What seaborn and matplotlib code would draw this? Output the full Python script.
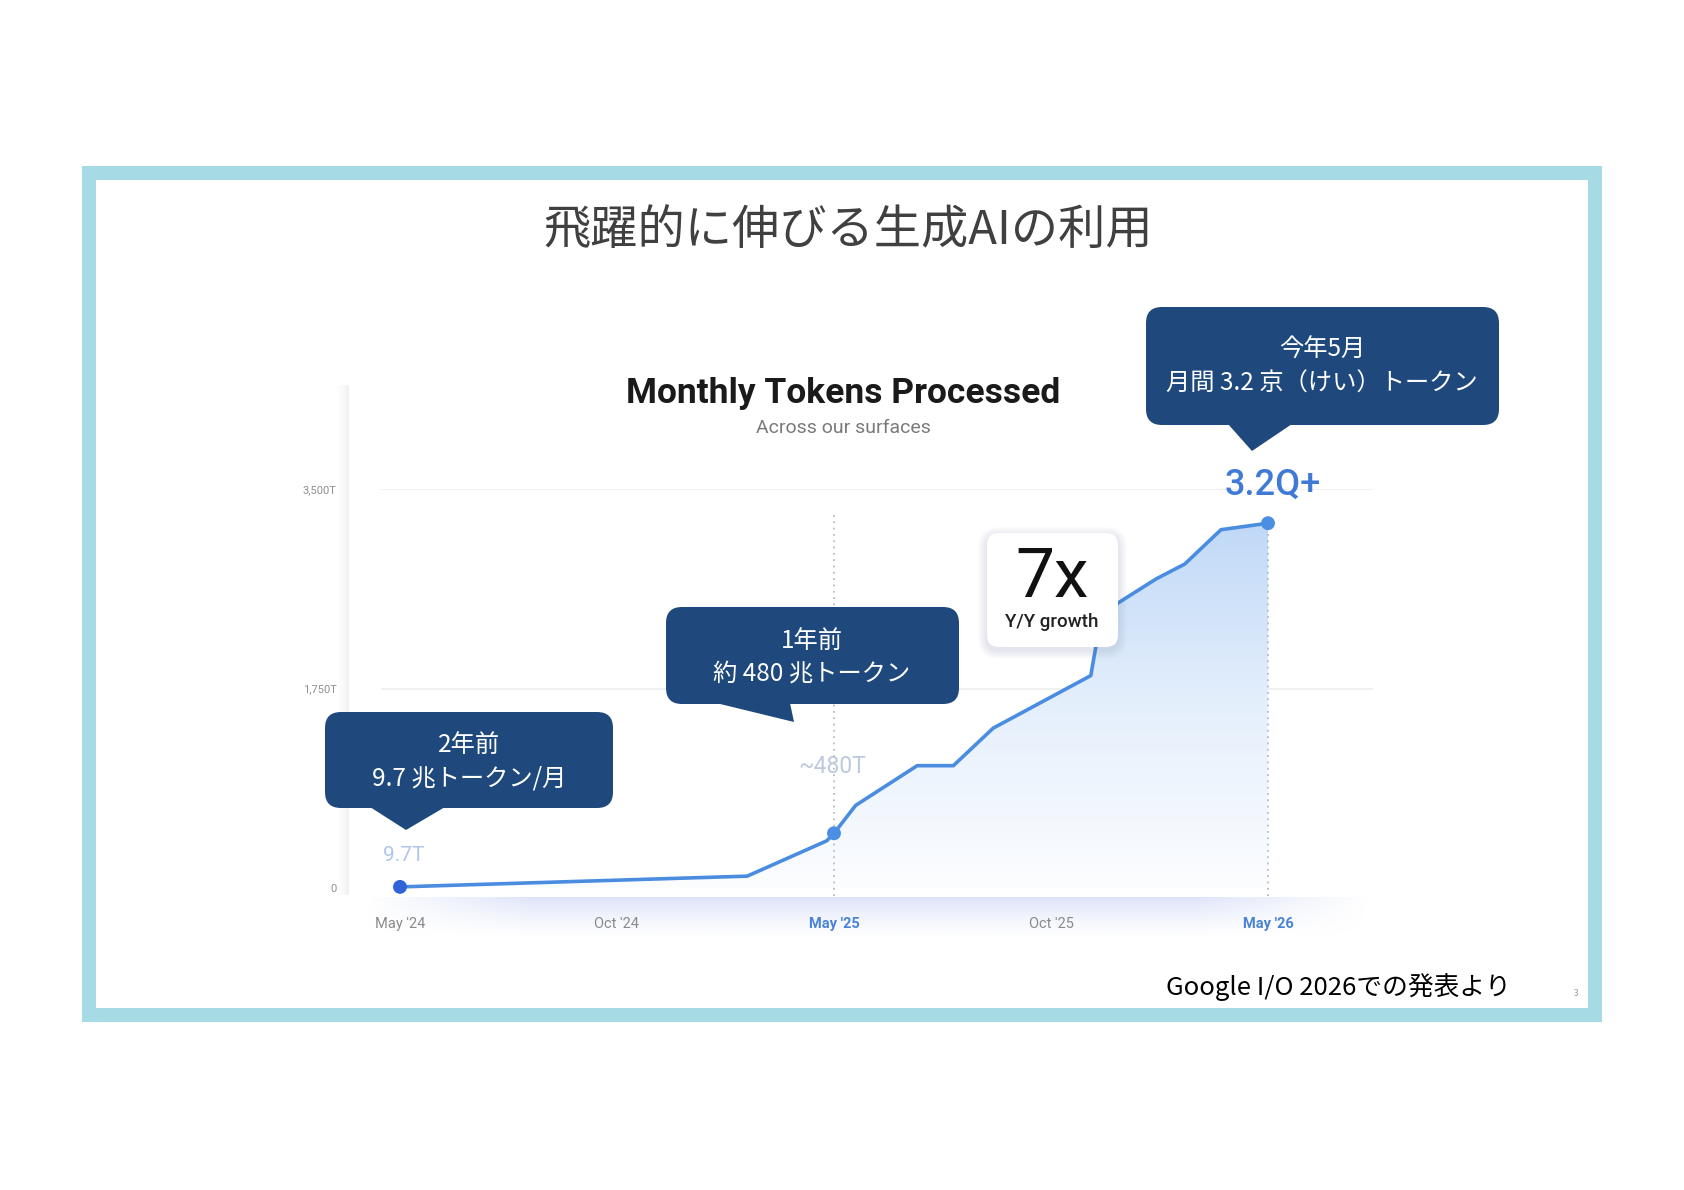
import numpy as np
import pandas as pd
import matplotlib
matplotlib.use("Agg")
import matplotlib.pyplot as plt
import seaborn as sns
from matplotlib.patches import FancyBboxPatch, Polygon, Rectangle
from matplotlib.colors import LinearSegmentedColormap

# data (months after May '24, tokens in T)
months = [0, 9.6, 11.8, 12, 12.6, 14.3, 15.3, 16.4, 19.1, 19.4, 20.9, 21.7, 22.7, 24]
tokens = [9.7, 104, 414, 480, 725, 1073, 1073, 1402, 1863, 2409, 2710, 2842, 3143, 3200]
x_ticks = [0, 6, 12, 18, 24]
x_labels = ["May '24", "Oct '24", "May '25", "Oct '25", "May '26"]
y_ticks = [0, 1750, 3500]
y_labels = ["0", "1,750T", "3,500T"]
marked_months = [0, 12, 24]
marked_tokens = [9.7, 480, 3200]
point_labels = ["9.7T", "~480T", "3.2Q+"]

title = "飛躍的に伸びる生成AIの利用"
chart_title = "Monthly Tokens Processed"
chart_sub = "Across our surfaces"
notes = [("2年前", "9.7 兆トークン/月"),
         ("1年前", "約 480 兆トークン"),
         ("今年5月", "月間 3.2 京（けい）トークン")]
source = "Google I/O 2026での発表より"

sns.set_theme(style="white")
plt.rcParams['font.family'] = ['Noto Sans CJK JP', 'DejaVu Sans']
LAT = ['Roboto', 'DejaVu Sans']

W, H = 1684, 1190
fig = plt.figure(figsize=(W / 100, H / 100), dpi=100)
fig.patch.set_facecolor('white')

# background layer in pixel coords
bg = fig.add_axes([0, 0, 1, 1], zorder=0)
bg.set_xlim(0, W); bg.set_ylim(H, 0); bg.axis('off')

# slide frame
bg.add_patch(Rectangle((89, 173), 1506, 842, fill=False, ec='#a6dbe6', lw=10.1))

# card shadows (left edge + bluish glow under the axis)
sh = np.linspace(0, 1, 16)[None, :] ** 2
img = np.zeros((1, 16, 4)); img[..., :3] = 0.55; img[..., 3] = sh * 0.13
bg.imshow(img, extent=[333, 349, 895, 385], aspect='auto', interpolation='bilinear')
gy = np.linspace(1, 0, 40)[:, None] ** 1.4
gx = np.clip(np.minimum(np.linspace(0, 1, 200), np.linspace(1, 0, 200)) * 6, 0, 1)[None, :]
glow = np.zeros((40, 200, 4)); glow[..., 0] = 0.60; glow[..., 1] = 0.68; glow[..., 2] = 0.93
glow[..., 3] = 0.32 * gy * gx
bg.imshow(glow, extent=[360, 1370, 940, 897], aspect='auto', interpolation='bilinear')
bg.add_patch(FancyBboxPatch((349, 380), 1060, 517, boxstyle="round,pad=0,rounding_size=16",
                            fc='white', ec='none'))
bg.set_xlim(0, W); bg.set_ylim(H, 0)

bg.text(848, 231, title, ha='center', va='center', fontsize=34, color='#404040')
bg.text(843, 393, chart_title, ha='center', va='center', fontsize=25.5, fontweight='bold',
        color='#1a1a1a', family=LAT)
bg.text(843, 428, chart_sub, ha='center', va='center', fontsize=14, color='#7a7a7a', family=LAT)

# chart axes: month 0 -> px 400, month 24 -> px 1268, 0 -> px 888, 3500 -> px 489
ppm = (1268 - 400) / 24
ppt = (888 - 489) / 3500
L, R, T, B = 381, 1373, 489, 900
ax = fig.add_axes([L / W, 1 - B / H, (R - L) / W, (B - T) / H], zorder=1)
ax.patch.set_alpha(0)

df = pd.DataFrame({'month': months, 'tokens': tokens})

# gradient fill under the line
cmap = LinearSegmentedColormap.from_list('fill', ['#fcfdff', '#e4effc', '#bfd8f7'])
grad = np.linspace(0, 1, 256)[:, None]
im = ax.imshow(grad, extent=[0, 24, 0, 3250], origin='lower', aspect='auto', cmap=cmap,
               interpolation='bilinear', zorder=1)
clip = Polygon(np.column_stack([months + [24, 0], tokens + [0, 0]]), closed=True,
               fc='none', ec='none', transform=ax.transData)
ax.add_patch(clip)
im.set_clip_path(clip)

for v in y_ticks[1:]:
    ax.axhline(v, color='#ededed', lw=1.2, zorder=0)
ax.vlines(12, -70, 3270, color='#b5bcc7', lw=1.3, ls=(0, (1, 2.5)), zorder=2)
ax.vlines(24, -70, 3200, color='#b5bcc7', lw=1.3, ls=(0, (1, 2.5)), zorder=2)

sns.lineplot(data=df, x='month', y='tokens', ax=ax, color='#4a8de0', lw=2.6, zorder=3)
sns.scatterplot(x=marked_months, y=marked_tokens, ax=ax, s=100, zorder=4,
                color=['#2f63d6', '#4a8fe3', '#4a8fe3'], edgecolor='none')

ax.text(marked_months[0] + 0.1, 281, point_labels[0], ha='center', va='center', fontsize=15,
        color='#b0c6ec', family=LAT)
ax.text(marked_months[1] - 0.05, 1070, point_labels[1], ha='center', va='center', fontsize=16.5,
        color='#bcc9de', family=LAT)
ax.text(marked_months[2] + 0.14, 3535, point_labels[2], ha='center', va='center', fontsize=26,
        color='#3f7ad6', fontweight='medium', family=LAT, clip_on=False)

ax.set_xlim((L - 400) / ppm, (R - 400) / ppm)
ax.set_ylim(-(B - 888) / ppt, 3500)
ax.set_xticks(x_ticks, x_labels)
ax.set_yticks(y_ticks, y_labels)
ax.set_xlabel(''); ax.set_ylabel('')
ax.tick_params(axis='x', length=0, pad=12, labelsize=10.5, labelcolor='#8a8a8a')
ax.tick_params(axis='y', length=0, pad=32, labelsize=8, labelcolor='#8f8f8f')
for lab in ax.get_xticklabels() + ax.get_yticklabels():
    lab.set_family(LAT)
for i in (2, 4):
    ax.get_xticklabels()[i].set_color('#4a82d6')
    ax.get_xticklabels()[i].set_fontweight('bold')
sns.despine(ax=ax, left=True, bottom=True)

# foreground layer: callouts and growth badge
fg = fig.add_axes([0, 0, 1, 1], zorder=3)
fg.set_xlim(0, W); fg.set_ylim(H, 0); fg.axis('off'); fg.patch.set_alpha(0)

navy = '#1f497d'
boxes = [((325, 712, 613, 808), [(370, 807), (445, 807), (406, 830)], 469, (745, 779)),
         ((666, 607, 959, 704), [(716, 703), (790, 703), (794, 722)], 812, (641, 674)),
         ((1146, 307, 1499, 425), [(1228, 424), (1292, 424), (1252, 451)], 1322, (350, 384))]
for (x0, y0, x1, y1), tri, cx, ys in boxes:
    fg.add_patch(FancyBboxPatch((x0, y0), x1 - x0, y1 - y0,
                                boxstyle="round,pad=0,rounding_size=16", fc=navy, ec='none'))
    fg.add_patch(Polygon(tri, closed=True, fc=navy, ec='none'))
for ((x0, y0, x1, y1), tri, cx, ys), (l1, l2) in zip(boxes, notes):
    fg.text(cx, ys[0], l1, ha='center', va='center', fontsize=17.5, color='white')
    fg.text(cx, ys[1], l2, ha='center', va='center', fontsize=17.5, color='white')

# 7x badge with soft shadow
bx0, by0, bx1, by1 = 987, 533, 1118, 647
for k in range(9, 0, -1):
    fg.add_patch(FancyBboxPatch((bx0 - k, by0 - k + 3), bx1 - bx0 + 2 * k, by1 - by0 + 2 * k,
                                boxstyle="round,pad=0,rounding_size=%d" % (12 + k),
                                fc='#5a6a80', ec='none', alpha=0.014))
fg.add_patch(FancyBboxPatch((bx0, by0), bx1 - bx0, by1 - by0,
                            boxstyle="round,pad=0,rounding_size=12", fc='white', ec='none'))
fg.text(1052, 578, "7x", ha='center', va='center', fontsize=50, color='#111111', family=LAT,
        fontweight='normal')
fg.text(1052, 622, "Y/Y growth", ha='center', va='center', fontsize=13.5, color='#222222',
        family=LAT, fontweight='medium')

fg.text(1338, 987, source, ha='center', va='center', fontsize=18.5, color='black')
fg.text(1576, 993, "3", ha='center', va='center', fontsize=6, color='#999999')

fig.savefig('out.png', dpi=100)
